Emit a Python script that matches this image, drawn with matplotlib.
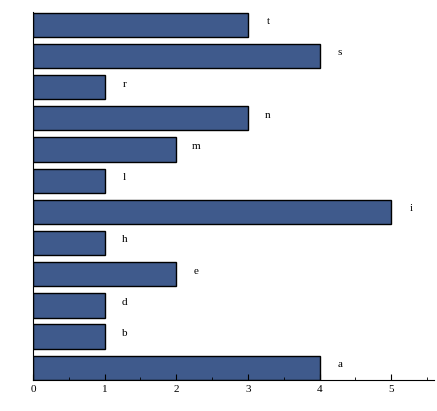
import matplotlib.pyplot as plt

letters = ['a', 'b', 'd', 'e', 'h', 'i', 'l', 'm', 'n', 'r', 's', 't']
counts = [4, 1, 1, 2, 1, 5, 1, 2, 3, 1, 4, 3]

plt.rcParams['font.family'] = ['Liberation Serif', 'DejaVu Serif']
fig = plt.figure(figsize=(4.37, 4.11), dpi=100)
ax = fig.add_axes([0.0755, 0.075, 0.918, 0.895])

pos = range(len(letters))
ax.barh(pos, counts, height=0.78, color='#3F5A8C', edgecolor='black', linewidth=1)
for y, v, t in zip(pos, counts, letters):
    ax.text(v + 0.28, y + 0.1, t, fontsize=8, va='center', ha='center')

ax.set_xlim(0, 5.6)
ax.set_ylim(-0.4, 11.4)
ax.set_xticks(range(6))
ax.set_xticks([i + 0.5 for i in range(6)], minor=True)
ax.set_yticks([])
ax.tick_params(axis='x', labelsize=8, direction='in', length=4)
ax.tick_params(axis='x', which='minor', direction='in', length=2)
for s in ['top', 'right']:
    ax.spines[s].set_visible(False)
fig.savefig('out.png')
